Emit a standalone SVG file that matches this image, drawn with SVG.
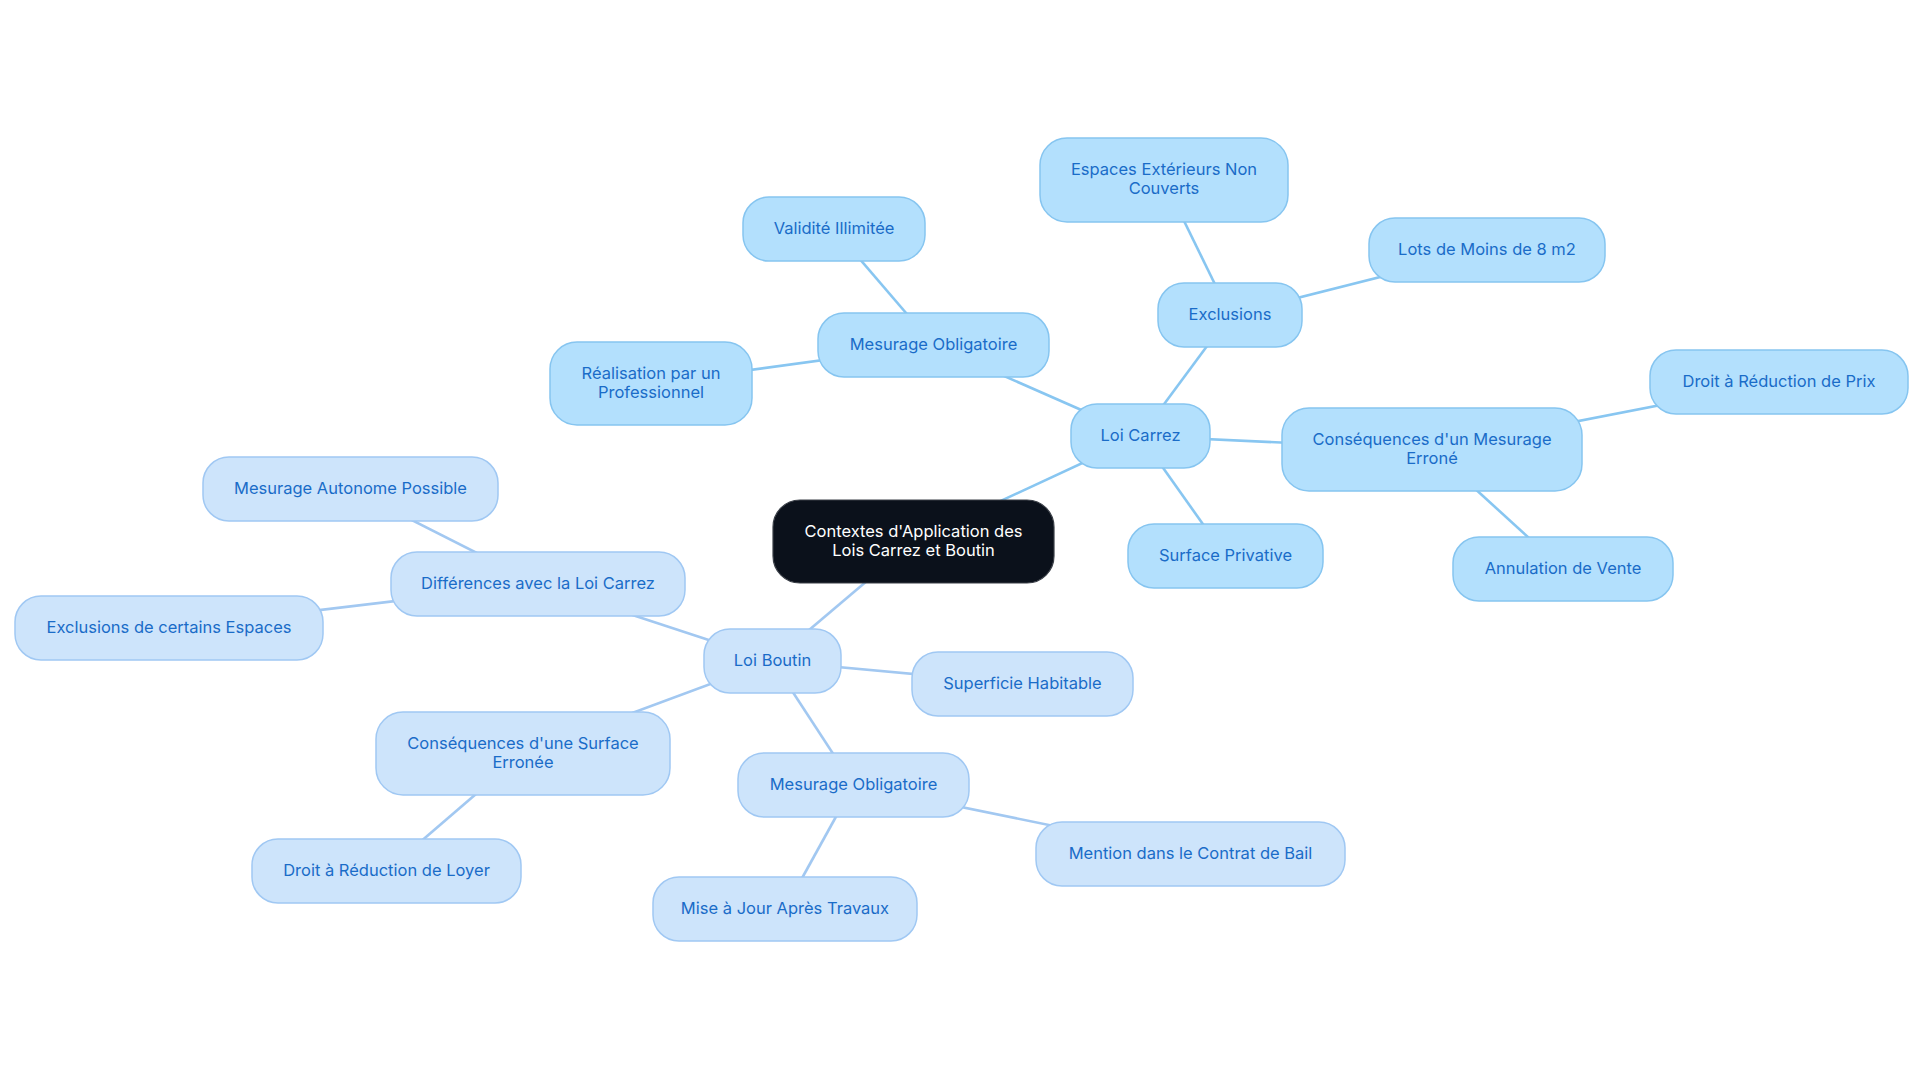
<svg xmlns="http://www.w3.org/2000/svg" width="1920" height="1083" viewBox="0 0 1920 1083">
<style>
.bg{fill:#ffffff}
.ec{stroke:#88c6f1;stroke-width:2.6;fill:none}
.eb{stroke:#a2c8f1;stroke-width:2.6;fill:none}
.nc rect{fill:#b3e0fd;stroke:#86c5f0;stroke-width:1.5}
.nb rect{fill:#cde4fb;stroke:#a0c8f3;stroke-width:1.5}
.root rect{fill:#0b111b;stroke:#3a3f47;stroke-width:1.2}
text{font-family:Inter,"Noto Sans","Liberation Sans",sans-serif;font-size:16.5px;text-anchor:middle}
.nc text,.nb text{fill:#1a6cc8}
.root text{fill:#ffffff}
</style>
<rect class="bg" x="0" y="0" width="1920" height="1083"/>
<g id="connectors">
<line class="ec" x1="913.5" y1="541.5" x2="1140.5" y2="436"/>
<line class="eb" x1="913.5" y1="541.5" x2="772.5" y2="661"/>
<line class="ec" x1="1140.5" y1="436" x2="933.5" y2="345"/>
<line class="ec" x1="933.5" y1="345" x2="834" y2="229"/>
<line class="ec" x1="933.5" y1="345" x2="651" y2="383.5"/>
<line class="ec" x1="1140.5" y1="436" x2="1230" y2="315"/>
<line class="ec" x1="1230" y1="315" x2="1164" y2="180"/>
<line class="ec" x1="1230" y1="315" x2="1487" y2="250"/>
<line class="ec" x1="1140.5" y1="436" x2="1432" y2="449.5"/>
<line class="ec" x1="1432" y1="449.5" x2="1779" y2="382"/>
<line class="ec" x1="1432" y1="449.5" x2="1563" y2="569"/>
<line class="ec" x1="1140.5" y1="436" x2="1225.5" y2="556"/>
<line class="eb" x1="772.5" y1="661" x2="538" y2="584"/>
<line class="eb" x1="538" y1="584" x2="350.5" y2="489"/>
<line class="eb" x1="538" y1="584" x2="169" y2="628"/>
<line class="eb" x1="772.5" y1="661" x2="1022.5" y2="684"/>
<line class="eb" x1="772.5" y1="661" x2="523" y2="753.5"/>
<line class="eb" x1="523" y1="753.5" x2="386.5" y2="871"/>
<line class="eb" x1="772.5" y1="661" x2="853.5" y2="785"/>
<line class="eb" x1="853.5" y1="785" x2="1190.5" y2="854"/>
<line class="eb" x1="853.5" y1="785" x2="785" y2="909"/>
</g>
<g id="n-root" class="root"><rect x="773" y="500" width="281" height="83" rx="27"/><text x="913.5" y="536.5">Contextes d'Application des</text><text x="913.5" y="555.5">Lois Carrez et Boutin</text></g>
<g id="n-carrez" class="nc"><rect x="1071" y="404" width="139" height="64" rx="26"/><text x="1140.5" y="441">Loi Carrez</text></g>
<g id="n-mes-c" class="nc"><rect x="818" y="313" width="231" height="64" rx="26"/><text x="933.5" y="350">Mesurage Obligatoire</text></g>
<g id="n-validite" class="nc"><rect x="743" y="197" width="182" height="64" rx="26"/><text x="834" y="234">Validité Illimitée</text></g>
<g id="n-realisation" class="nc"><rect x="550" y="342" width="202" height="83" rx="27"/><text x="651" y="378.5">Réalisation par un</text><text x="651" y="397.5">Professionnel</text></g>
<g id="n-exclusions" class="nc"><rect x="1158" y="283" width="144" height="64" rx="26"/><text x="1230" y="320">Exclusions</text></g>
<g id="n-espaces" class="nc"><rect x="1040" y="138" width="248" height="84" rx="27"/><text x="1164" y="175">Espaces Extérieurs Non</text><text x="1164" y="194">Couverts</text></g>
<g id="n-lots" class="nc"><rect x="1369" y="218" width="236" height="64" rx="26"/><text x="1487" y="255">Lots de Moins de 8 m2</text></g>
<g id="n-cons-m" class="nc"><rect x="1282" y="408" width="300" height="83" rx="27"/><text x="1432" y="444.5">Conséquences d'un Mesurage</text><text x="1432" y="463.5">Erroné</text></g>
<g id="n-droit-prix" class="nc"><rect x="1650" y="350" width="258" height="64" rx="26"/><text x="1779" y="387">Droit à Réduction de Prix</text></g>
<g id="n-annulation" class="nc"><rect x="1453" y="537" width="220" height="64" rx="26"/><text x="1563" y="574">Annulation de Vente</text></g>
<g id="n-surface" class="nc"><rect x="1128" y="524" width="195" height="64" rx="26"/><text x="1225.5" y="561">Surface Privative</text></g>
<g id="n-boutin" class="nb"><rect x="704" y="629" width="137" height="64" rx="26"/><text x="772.5" y="666">Loi Boutin</text></g>
<g id="n-diff" class="nb"><rect x="391" y="552" width="294" height="64" rx="26"/><text x="538" y="589">Différences avec la Loi Carrez</text></g>
<g id="n-autonome" class="nb"><rect x="203" y="457" width="295" height="64" rx="26"/><text x="350.5" y="494">Mesurage Autonome Possible</text></g>
<g id="n-excl-cert" class="nb"><rect x="15" y="596" width="308" height="64" rx="26"/><text x="169" y="633">Exclusions de certains Espaces</text></g>
<g id="n-superficie" class="nb"><rect x="912" y="652" width="221" height="64" rx="26"/><text x="1022.5" y="689">Superficie Habitable</text></g>
<g id="n-cons-s" class="nb"><rect x="376" y="712" width="294" height="83" rx="27"/><text x="523" y="748.5">Conséquences d'une Surface</text><text x="523" y="767.5">Erronée</text></g>
<g id="n-droit-loyer" class="nb"><rect x="252" y="839" width="269" height="64" rx="26"/><text x="386.5" y="876">Droit à Réduction de Loyer</text></g>
<g id="n-mes-b" class="nb"><rect x="738" y="753" width="231" height="64" rx="26"/><text x="853.5" y="790">Mesurage Obligatoire</text></g>
<g id="n-mention" class="nb"><rect x="1036" y="822" width="309" height="64" rx="26"/><text x="1190.5" y="859">Mention dans le Contrat de Bail</text></g>
<g id="n-mise" class="nb"><rect x="653" y="877" width="264" height="64" rx="26"/><text x="785" y="914">Mise à Jour Après Travaux</text></g>
</svg>
